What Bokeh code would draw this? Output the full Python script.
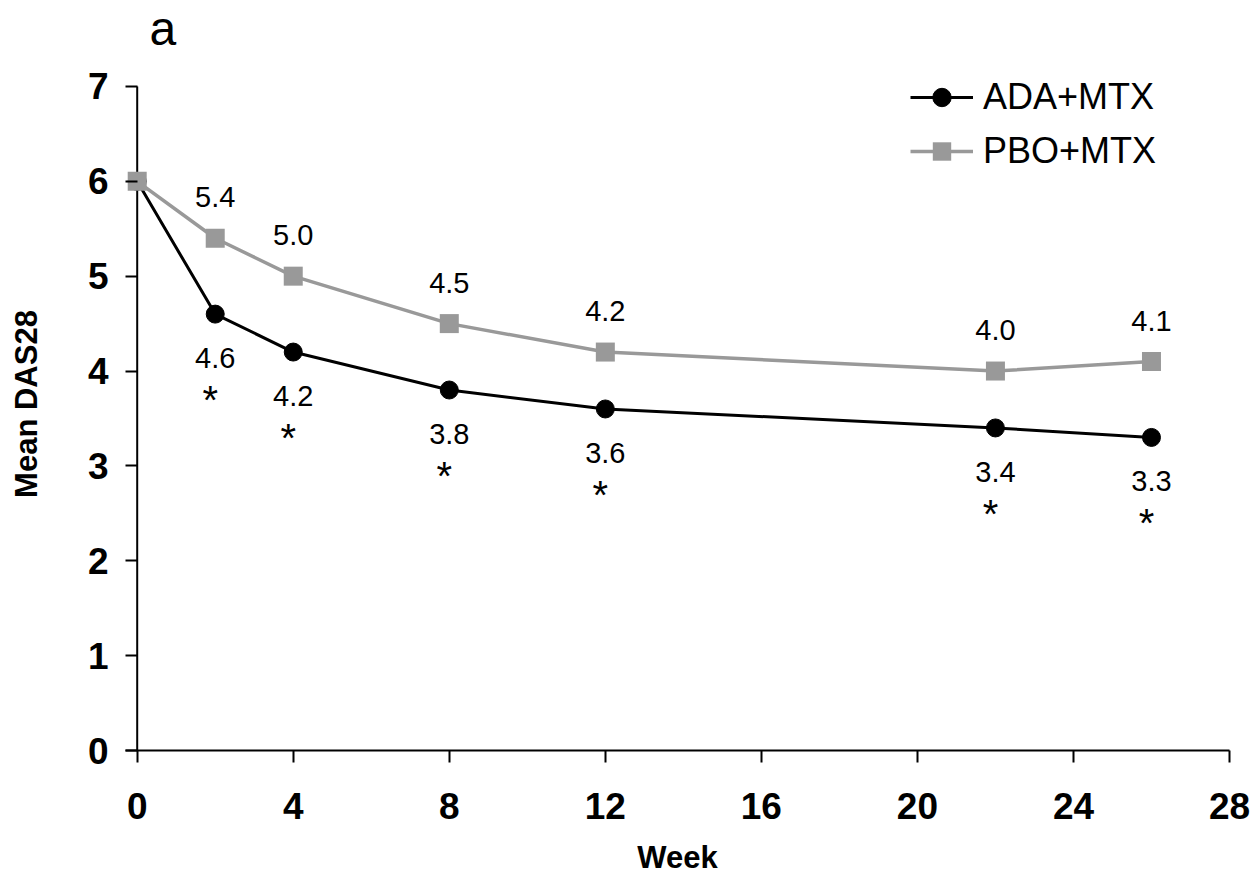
from bokeh.plotting import figure
from bokeh.models import Range1d, FixedTicker, Legend, LegendItem
from bokeh.embed import file_html
from bokeh.resources import INLINE
from bokeh.core.properties import value

# ---- data ----
weeks = [0, 2, 4, 8, 12, 22, 26]
ada_mtx = [6.0, 4.6, 4.2, 3.8, 3.6, 3.4, 3.3]
pbo_mtx = [6.0, 5.4, 5.0, 4.5, 4.2, 4.0, 4.1]
label_weeks = [2, 4, 8, 12, 22, 26]
ada_labels = ["4.6", "4.2", "3.8", "3.6", "3.4", "3.3"]
pbo_labels = ["5.4", "5.0", "4.5", "4.2", "4.0", "4.1"]
signif = ["*", "*", "*", "*", "*", "*"]
x_ticks = [0, 4, 8, 12, 16, 20, 24, 28]
y_ticks = [0, 1, 2, 3, 4, 5, 6, 7]

FONT = "Liberation Sans"
GRAY = "#999999"

# y range runs a little above the top tick so the legend and title have room
p = figure(width=1256, height=877, output_backend="svg", toolbar_location=None,
           x_range=Range1d(-0.3, 28), y_range=Range1d(0, 7.305),
           min_border_left=125, min_border_right=27, min_border_top=57,
           min_border_bottom=125, title="a")

p.title.text_font = FONT
p.title.text_font_size = "48px"
p.title.text_font_style = "normal"
p.title.text_color = "black"
p.title.vertical_align = "top"
p.title.offset = 24
p.title.standoff = 2

p.xgrid.visible = False
p.ygrid.visible = False
p.outline_line_color = None

p.xaxis.ticker = FixedTicker(ticks=x_ticks)
p.yaxis.ticker = FixedTicker(ticks=y_ticks)
p.xaxis.axis_label = "Week"
p.yaxis.axis_label = "Mean DAS28"

for ax in (p.xaxis[0], p.yaxis[0]):
    ax.axis_line_width = 2
    ax.axis_line_color = "black"
    ax.major_tick_line_width = 2
    ax.major_tick_line_color = "black"
    ax.minor_tick_out = 0
    ax.minor_tick_in = 0
    ax.major_label_text_font = FONT
    ax.major_label_text_font_size = "37px"
    ax.major_label_text_font_style = "bold"
    ax.major_label_text_color = "black"
    ax.axis_label_text_font = FONT
    ax.axis_label_text_font_size = "31px"
    ax.axis_label_text_font_style = "bold"
    ax.axis_label_text_color = "black"

p.xaxis.major_tick_out = 12
p.xaxis.major_tick_in = 0
# y axis: ticks run from the frame edge to the axis line drawn at week 0
p.yaxis.axis_line_color = None
p.yaxis.major_tick_out = 0
p.yaxis.major_tick_in = 12
p.segment(x0=[x_ticks[0]], y0=[y_ticks[0]], x1=[x_ticks[0]], y1=[y_ticks[-1]],
          line_color="black", line_width=2)

p.xaxis.major_label_standoff = 30
p.yaxis.major_label_standoff = 17
p.xaxis.axis_label_standoff = 18
p.yaxis.axis_label_standoff = 41

r1 = p.line(weeks, ada_mtx, line_color="black", line_width=3)
r2 = p.scatter(weeks, ada_mtx, marker="circle", size=18,
               fill_color="black", line_color="black")
r3 = p.line(weeks, pbo_mtx, line_color=GRAY, line_width=3.5)
r4 = p.scatter(weeks, pbo_mtx, marker="square", size=19,
               fill_color=GRAY, line_color=None)

p.text(label_weeks, pbo_mtx[1:], text=pbo_labels, y_offset=-41,
       text_align="center", text_baseline="middle",
       text_font=value(FONT), text_font_size="29px", text_color="black")
p.text(label_weeks, ada_mtx[1:], text=ada_labels, y_offset=44,
       text_align="center", text_baseline="middle",
       text_font=value(FONT), text_font_size="29px", text_color="black")
p.text(label_weeks, ada_mtx[1:], text=signif, y_offset=86, x_offset=-5,
       text_align="center", text_baseline="middle",
       text_font=value(FONT), text_font_size="40px", text_color="black")

legend = Legend(items=[LegendItem(label="ADA+MTX", renderers=[r1, r2]),
                       LegendItem(label="PBO+MTX", renderers=[r3, r4])],
                location=(785, 576), glyph_width=63, glyph_height=46,
                label_standoff=10, spacing=8, padding=0, margin=0,
                border_line_color=None, background_fill_alpha=0,
                label_text_font=FONT, label_text_font_size="36px",
                label_text_color="black")
p.add_layout(legend)

open("out.html", "w").write(file_html(p, INLINE))
